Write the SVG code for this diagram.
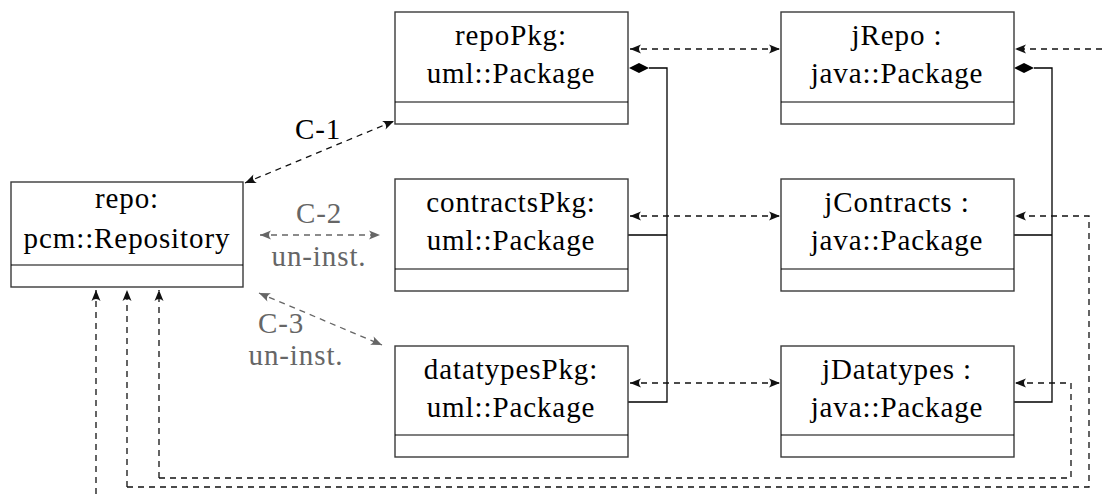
<svg xmlns="http://www.w3.org/2000/svg" width="1102" height="494" viewBox="0 0 1102 494">
  <style>
    .box { fill: #fff; stroke: #3a3a3a; stroke-width: 1.4; }
    .div { stroke: #000; stroke-width: 1.2; }
    .lbl { font-family: "Liberation Serif", "Times New Roman", serif; font-size: 29px; letter-spacing: 0.9px; fill: #000; text-anchor: middle; }
    .glbl { fill: #666; }
    .dash { fill: none; stroke: #111; stroke-width: 1.3; stroke-dasharray: 6 5; }
    .gdash { fill: none; stroke: #666; stroke-width: 1.3; stroke-dasharray: 6 5; }
    .comp { fill: none; stroke: #000; stroke-width: 1.3; }
  </style>
  <defs>
    <marker id="head" viewBox="-12 -6 13 12" refX="0" refY="0" markerWidth="13" markerHeight="12" markerUnits="userSpaceOnUse" orient="auto-start-reverse">
      <path d="M0,0 L-11,-4.5 Q-7,0 -11,4.5 Z" fill="#111"/>
    </marker>
    <marker id="ghead" viewBox="-12 -6 13 12" refX="0" refY="0" markerWidth="13" markerHeight="12" markerUnits="userSpaceOnUse" orient="auto-start-reverse">
      <path d="M0,0 L-11,-4.5 Q-7,0 -11,4.5 Z" fill="#666"/>
    </marker>
    <path id="diamond" d="M0,0 L10,-5 L20,0 L10,5 Z" fill="#000"/>
  </defs>

  <!-- connectors -->
  <g id="connectors">
    <!-- composition: uml packages -->
    <use href="#diamond" x="629" y="68"/>
    <path class="comp" d="M649,68 H667 V402 H628 M628,235 H667"/>
    <!-- composition: java packages -->
    <use href="#diamond" x="1014" y="68"/>
    <path class="comp" d="M1034,68 H1052 V402 H1014 M1014,235 H1052"/>

    <!-- uml <-> java correspondences -->
    <path class="dash" d="M630,49 H780" marker-start="url(#head)" marker-end="url(#head)"/>
    <path class="dash" d="M630,216 H780" marker-start="url(#head)" marker-end="url(#head)"/>
    <path class="dash" d="M630,383 H780" marker-start="url(#head)" marker-end="url(#head)"/>

    <!-- incoming to jRepo -->
    <path class="dash" d="M1102,49 H1015" marker-end="url(#head)"/>

    <!-- repository back-links -->
    <path class="dash" d="M127,487 H1089 V216 H1015" marker-end="url(#head)"/>
    <path class="dash" d="M127,487 V290" marker-end="url(#head)"/>
    <path class="dash" d="M159,478 H1071 V383 H1015" marker-end="url(#head)"/>
    <path class="dash" d="M159,478 V290" marker-end="url(#head)"/>
    <path class="dash" d="M96,494 V290" marker-end="url(#head)"/>

    <!-- C-1 -->
    <path class="dash" d="M245,183 L394,121" marker-start="url(#head)" marker-end="url(#head)"/>
    <text class="lbl" x="318" y="139">C-1</text>
    <!-- C-2 -->
    <path class="gdash" d="M260,235 H380" marker-start="url(#ghead)" marker-end="url(#ghead)"/>
    <text class="lbl glbl" x="319" y="223">C-2</text>
    <text class="lbl glbl" x="319" y="266">un-inst.</text>
    <!-- C-3 -->
    <path class="gdash" d="M259,293 L382,345" marker-start="url(#ghead)" marker-end="url(#ghead)"/>
    <text class="lbl glbl" x="281" y="333">C-3</text>
    <text class="lbl glbl" x="296" y="365">un-inst.</text>
  </g>

  <!-- repository -->
  <g id="repo">
    <rect class="box" x="11" y="182" width="232" height="105"/>
    <line class="div" x1="11" y1="265" x2="243" y2="265"/>
    <text class="lbl" x="127" y="208">repo:</text>
    <text class="lbl" x="127" y="248">pcm::Repository</text>
  </g>

  <!-- uml packages -->
  <g id="repoPkg">
    <rect class="box" x="395" y="12" width="233" height="112"/>
    <line class="div" x1="395" y1="102" x2="628" y2="102"/>
    <text class="lbl" x="511" y="45">repoPkg:</text>
    <text class="lbl" x="511" y="83">uml::Package</text>
  </g>
  <g id="contractsPkg">
    <rect class="box" x="395" y="179" width="233" height="112"/>
    <line class="div" x1="395" y1="269" x2="628" y2="269"/>
    <text class="lbl" x="511" y="212">contractsPkg:</text>
    <text class="lbl" x="511" y="250">uml::Package</text>
  </g>
  <g id="datatypesPkg">
    <rect class="box" x="395" y="346" width="233" height="111"/>
    <line class="div" x1="395" y1="435" x2="628" y2="435"/>
    <text class="lbl" x="511" y="379">datatypesPkg:</text>
    <text class="lbl" x="511" y="417">uml::Package</text>
  </g>

  <!-- java packages -->
  <g id="jRepo">
    <rect class="box" x="781" y="12" width="233" height="112"/>
    <line class="div" x1="781" y1="102" x2="1014" y2="102"/>
    <text class="lbl" x="897" y="45">jRepo :</text>
    <text class="lbl" x="897" y="83">java::Package</text>
  </g>
  <g id="jContracts">
    <rect class="box" x="781" y="179" width="233" height="112"/>
    <line class="div" x1="781" y1="269" x2="1014" y2="269"/>
    <text class="lbl" x="897" y="212">jContracts :</text>
    <text class="lbl" x="897" y="250">java::Package</text>
  </g>
  <g id="jDatatypes">
    <rect class="box" x="781" y="346" width="233" height="111"/>
    <line class="div" x1="781" y1="435" x2="1014" y2="435"/>
    <text class="lbl" x="897" y="379">jDatatypes :</text>
    <text class="lbl" x="897" y="417">java::Package</text>
  </g>
</svg>
